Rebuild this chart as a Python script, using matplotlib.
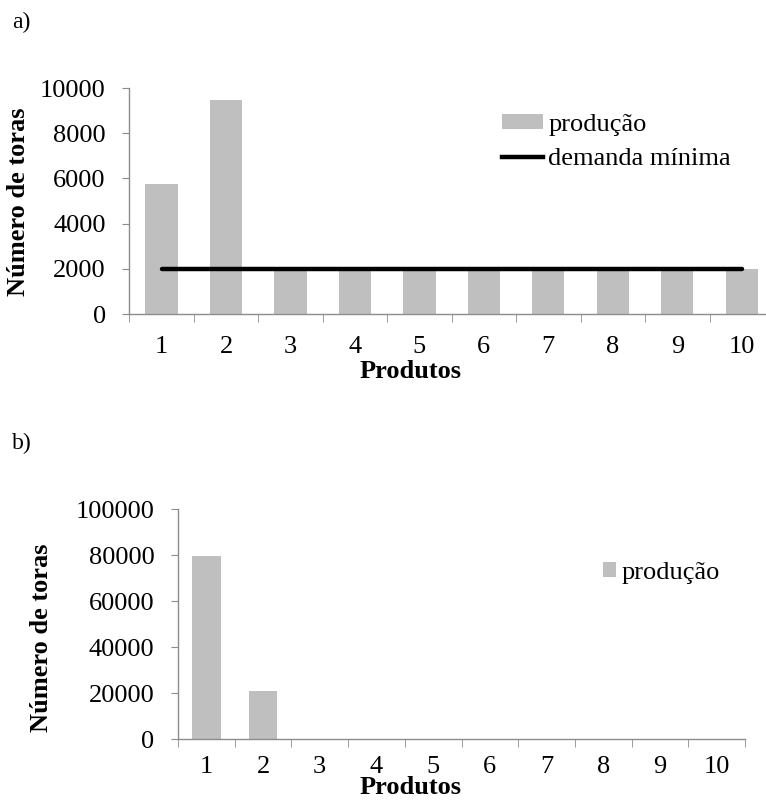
import matplotlib.pyplot as plt
from matplotlib.patches import Patch
from matplotlib.lines import Line2D
import numpy as np

plt.rcParams['font.family'] = ['Liberation Serif', 'DejaVu Serif']

produtos = [1, 2, 3, 4, 5, 6, 7, 8, 9, 10]
producao_a = [5750, 9450, 2000, 2000, 2000, 2000, 2000, 2000, 2000, 2000]
demanda_a = [2000, 2000, 2000, 2000, 2000, 2000, 2000, 2000, 2000, 2000]
producao_b = [79700, 20900, 0, 0, 0, 0, 0, 0, 0, 0]

bar_color = '#bfbfbf'
axis_color = '#8c8c8c'
fs = 19
W, H = 766, 800

fig = plt.figure(figsize=(W / 100, H / 100), dpi=100)


def style_axes(ax, ymax, ystep, xpad):
    ax.set_xlim(0.5, 10.5)
    ax.set_ylim(0, ymax)
    for s in ['top', 'right']:
        ax.spines[s].set_visible(False)
    for s in ['left', 'bottom']:
        ax.spines[s].set_color(axis_color)
        ax.spines[s].set_linewidth(1.0)
    ax.set_yticks(np.arange(0, ymax + 1, ystep))
    ax.set_xticks(produtos)
    ax.set_xticklabels([str(p) for p in produtos])
    ax.set_xticks(np.arange(0.5, 11, 1), minor=True)
    ax.tick_params(axis='x', which='major', length=0, pad=xpad, labelsize=fs)
    ax.tick_params(axis='x', which='minor', length=6, color=axis_color, direction='out')
    ax.tick_params(axis='y', length=5, color=axis_color, direction='out', pad=12, labelsize=fs)


# a)
ax1 = fig.add_axes([129.3 / W, 1 - 314 / H, 644.7 / W, 226 / H])
ax1.bar(produtos, producao_a, width=0.5, color=bar_color, zorder=2)
ax1.plot(produtos, demanda_a, color='black', linewidth=3.2, solid_capstyle='round', zorder=3)
style_axes(ax1, 10000, 2000, 16)
handles = [Patch(facecolor=bar_color, edgecolor='none', label='produção'),
           Line2D([], [], color='black', linewidth=3.2, label='demanda mínima')]
ax1.legend(handles=handles, loc='upper left', bbox_to_anchor=(502 / W, 1 - 114 / H),
           bbox_transform=fig.transFigure, frameon=False, fontsize=fs, borderpad=0,
           borderaxespad=0, handlelength=1.55, handleheight=0.5, handletextpad=0.2,
           labelspacing=0.47)

# b)
ax2 = fig.add_axes([178 / W, 1 - 739 / H, 567 / W, 230 / H])
ax2.bar(produtos, producao_b, width=0.5, color=bar_color, zorder=2)
style_axes(ax2, 100000, 20000, 12)
ax2.legend(handles=[Patch(facecolor=bar_color, edgecolor='none', label='produção')],
           loc='upper left', bbox_to_anchor=(603 / W, 1 - 562 / H),
           bbox_transform=fig.transFigure, frameon=False, fontsize=fs, borderpad=0,
           borderaxespad=0, handlelength=0.5, handleheight=0.5, handletextpad=0.2)

# labels
fig.text(12 / W, 1 - 22 / H, 'a)', fontsize=17, ha='left', va='center')
fig.text(12 / W, 1 - 443 / H, 'b)', fontsize=17, ha='left', va='center')
fig.text(19 / W, 1 - 202 / H, 'Número de toras', fontsize=fs, fontweight='bold',
         rotation=90, ha='center', va='center')
fig.text(42 / W, 1 - 638 / H, 'Número de toras', fontsize=fs, fontweight='bold',
         rotation=90, ha='center', va='center')
fig.text(411 / W, 1 - 371 / H, 'Produtos', fontsize=fs, fontweight='bold',
         ha='center', va='center')
fig.text(411 / W, 1 - 788 / H, 'Produtos', fontsize=fs, fontweight='bold',
         ha='center', va='center')

fig.savefig('out.png', dpi=100)
